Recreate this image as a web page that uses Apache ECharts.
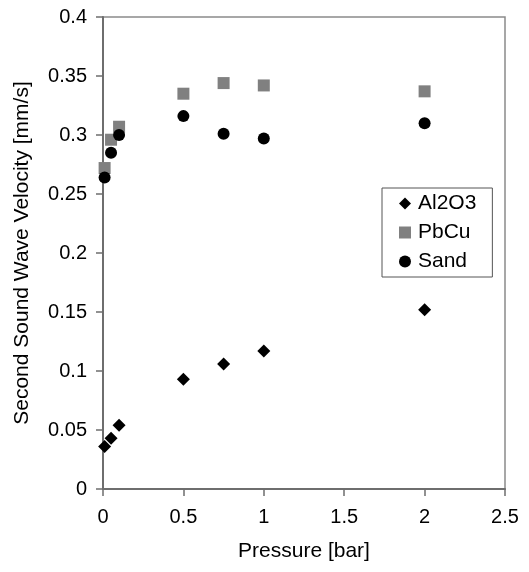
<!DOCTYPE html>
<html>
<head>
<meta charset="utf-8">
<script src="https://cdn.jsdelivr.net/npm/echarts@6/dist/echarts.min.js"></script>
<style>html,body{margin:0;padding:0;background:#fff;}#c{width:529px;height:572px;}</style>
</head>
<body>
<div id="c"></div>
<script>
const seriesNames = ['Al2O3', 'PbCu', 'Sand'];
const pressureAl2O3 = [0.01, 0.05, 0.1, 0.5, 0.75, 1, 2];
const velocityAl2O3 = [0.036, 0.043, 0.054, 0.093, 0.106, 0.117, 0.152];
const pressurePbCu = [0.01, 0.05, 0.1, 0.5, 0.75, 1, 2];
const velocityPbCu = [0.272, 0.296, 0.307, 0.335, 0.344, 0.342, 0.337];
const pressureSand = [0.01, 0.05, 0.1, 0.5, 0.75, 1, 2];
const velocitySand = [0.264, 0.285, 0.300, 0.316, 0.301, 0.297, 0.310];

const pairs = (xs, ys) => xs.map((x, i) => [x, ys[i]]);
const font = 'Liberation Sans, Arial, sans-serif';

const chart = echarts.init(document.getElementById('c'), null, {renderer: 'canvas'});
chart.setOption({
  backgroundColor: '#ffffff',
  animation: false,
  grid: {left: 103, right: 24, top: 17, bottom: 83, show: true, borderColor: '#8a8a8a', borderWidth: 1.5},
  xAxis: {
    type: 'value', min: 0, max: 2.5, interval: 0.5,
    name: 'Pressure [bar]', nameLocation: 'middle', nameGap: 52,
    nameTextStyle: {fontFamily: font, fontSize: 21, color: '#000'},
    axisLine: {lineStyle: {color: '#6e6e6e', width: 2}},
    axisTick: {show: true, length: 7, lineStyle: {color: '#6e6e6e', width: 1.5}},
    axisLabel: {fontFamily: font, fontSize: 20, color: '#000', margin: 18},
    splitLine: {show: false}
  },
  yAxis: {
    type: 'value', min: 0, max: 0.4, interval: 0.05,
    name: 'Second Sound Wave Velocity [mm/s]', nameLocation: 'middle', nameGap: 70,
    nameTextStyle: {fontFamily: font, fontSize: 21, color: '#000'},
    axisLine: {lineStyle: {color: '#6e6e6e', width: 2}},
    axisTick: {show: true, length: 7, lineStyle: {color: '#6e6e6e', width: 1.5}},
    axisLabel: {fontFamily: font, fontSize: 20, color: '#000', margin: 16},
    splitLine: {show: false}
  },
  legend: {
    orient: 'vertical', left: 382, top: 188,
    padding: [5, 16, 5, 17],
    itemWidth: 12, itemHeight: 12, itemGap: 8,
    borderColor: '#555', borderWidth: 1,
    backgroundColor: '#fff',
    textStyle: {fontFamily: font, fontSize: 21, color: '#000', padding: [0, 0, 0, 2]},
    data: [
      {name: seriesNames[0], icon: 'diamond'},
      {name: seriesNames[1], icon: 'rect'},
      {name: seriesNames[2], icon: 'circle'}
    ]
  },
  series: [
    {name: seriesNames[0], type: 'scatter', symbol: 'diamond', symbolSize: 13,
     itemStyle: {color: '#000', opacity: 1}, data: pairs(pressureAl2O3, velocityAl2O3)},
    {name: seriesNames[1], type: 'scatter', symbol: 'rect', symbolSize: 12,
     itemStyle: {color: '#808080', opacity: 1}, data: pairs(pressurePbCu, velocityPbCu)},
    {name: seriesNames[2], type: 'scatter', symbol: 'circle', symbolSize: 12,
     itemStyle: {color: '#000', opacity: 1}, data: pairs(pressureSand, velocitySand)}
  ]
});
</script>
</body>
</html>
